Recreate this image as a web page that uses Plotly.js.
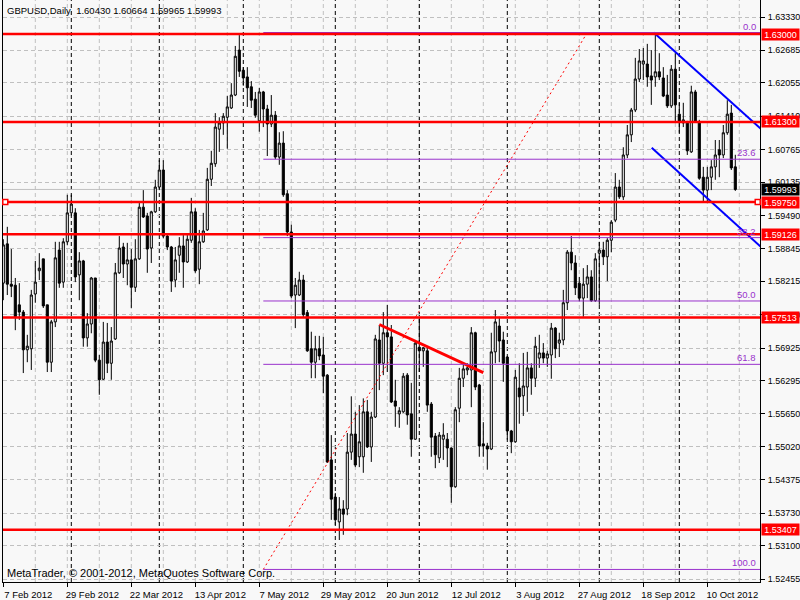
<!DOCTYPE html>
<html><head><meta charset="utf-8">
<script src="https://cdn.plot.ly/plotly-3.0.1.min.js"></script>
<style>html,body{margin:0;padding:0;background:#f8f8f8;}#chart{width:800px;height:600px;}</style>
</head><body><div id="chart"></div>
<script>
const symbolName = "GBPUSD,Daily";
const openP = [1.5818,1.5894,1.5816,1.5814,1.5776,1.5762,1.5689,1.5691,1.5797,1.5842,
1.5865,1.5776,1.5665,1.5743,1.5882,1.5820,1.5898,1.5954,1.5954,1.5834,
1.5861,1.5712,1.5739,1.5828,1.5669,1.5632,1.5704,1.5663,1.5710,1.5838,
1.5888,1.5855,1.5863,1.5810,1.5865,1.5965,1.5948,1.5886,1.5956,1.6004,
1.6037,1.5909,1.5888,1.5824,1.5872,1.5890,1.5859,1.5901,1.5956,1.5845,
1.5898,1.5921,1.6019,1.6049,1.6116,1.6128,1.6139,1.6157,1.6182,1.6269,
1.6230,1.6217,1.6198,1.6174,1.6132,1.6188,1.6155,1.6126,1.6143,1.6062,
1.6089,1.5991,1.5917,1.5795,1.5795,1.5824,1.5761,1.5691,1.5665,1.5691,
1.5679,1.5640,1.5476,1.5404,1.5356,1.5381,1.5381,1.5491,1.5526,1.5482,
1.5482,1.5569,1.5501,1.5559,1.5708,1.5663,1.5722,1.5714,1.5590,1.5565,
1.5569,1.5640,1.5565,1.5516,1.5694,1.5687,1.5687,1.5584,1.5522,1.5480,
1.5516,1.5516,1.5499,1.5424,1.5576,1.5634,1.5650,1.5650,1.5722,1.5621,
1.5507,1.5503,1.5497,1.5685,1.5735,1.5708,1.5675,1.5532,1.5511,1.5615,
1.5600,1.5617,1.5654,1.5634,1.5673,1.5683,1.5673,1.5679,1.5731,1.5702,
1.5708,1.5780,1.5878,1.5857,1.5818,1.5789,1.5816,1.5830,1.5784,1.5876,
1.5882,1.5869,1.5901,1.5940,1.6004,1.5985,1.6066,1.6105,1.6153,1.6213,
1.6242,1.6242,1.6219,1.6217,1.6227,1.6215,1.6182,1.6161,1.6232,1.6145,
1.6128,1.6130,1.6072,1.6188,1.6130,1.6023,1.5998,1.6023,1.6043,1.6076,
1.6066,1.6109,1.6147,1.60430];
const highP = [1.5903,1.5927,1.5884,1.5828,1.5818,1.5766,1.5718,1.5805,1.5861,1.5876,
1.5865,1.5776,1.5747,1.5898,1.5898,1.5905,1.5989,1.5989,1.5963,1.5878,
1.5863,1.5760,1.5830,1.5828,1.5679,1.5743,1.5741,1.5733,1.5857,1.5909,
1.5896,1.5896,1.5884,1.5903,1.5973,1.5998,1.5954,1.5958,1.6018,1.6056,
1.6056,1.5913,1.5890,1.5888,1.5907,1.5911,1.5911,1.5983,1.5963,1.5921,
1.5954,1.6041,1.6074,1.6147,1.6139,1.6147,1.6180,1.6205,1.6277,1.6298,
1.6236,1.6236,1.6209,1.6188,1.6196,1.6190,1.6163,1.6182,1.6151,1.6110,
1.6112,1.5998,1.5931,1.5828,1.5840,1.5834,1.5766,1.5724,1.5716,1.5716,
1.5714,1.5642,1.5524,1.5412,1.5404,1.5398,1.5528,1.5599,1.5569,1.5582,
1.5595,1.5592,1.5569,1.5718,1.5737,1.5762,1.5776,1.5737,1.5631,1.5578,
1.5644,1.5644,1.5625,1.5706,1.5753,1.5694,1.5693,1.5588,1.5528,1.5530,
1.5547,1.5528,1.5500,1.5578,1.5654,1.5665,1.5663,1.5733,1.5724,1.5623,
1.5549,1.5509,1.5722,1.5766,1.5753,1.5724,1.5677,1.5534,1.5650,1.5663,
1.5683,1.5685,1.5663,1.5714,1.5718,1.5702,1.5687,1.5741,1.5733,1.5722,
1.5805,1.5882,1.5909,1.5872,1.5830,1.5847,1.5853,1.5843,1.5876,1.5898,
1.5898,1.5905,1.5940,1.6031,1.6018,1.6081,1.6124,1.6157,1.6254,1.6271,
1.6273,1.6281,1.6269,1.6302,1.6263,1.6236,1.6221,1.6240,1.6263,1.6167,
1.6167,1.6132,1.6200,1.6192,1.6134,1.6043,1.6043,1.6056,1.6095,1.6095,
1.6124,1.6172,1.6163,1.60664];
const lowP = [1.5785,1.5795,1.5791,1.5727,1.5747,1.5644,1.5665,1.5650,1.5780,1.5824,
1.5770,1.5646,1.5646,1.5733,1.5809,1.5809,1.5892,1.5948,1.5820,1.5785,
1.5695,1.5695,1.5721,1.5665,1.5602,1.5631,1.5644,1.5631,1.5708,1.5836,
1.5828,1.5814,1.5770,1.5801,1.5863,1.5944,1.5838,1.5857,1.5954,1.5998,
1.5905,1.5882,1.5801,1.5810,1.5838,1.5809,1.5857,1.5896,1.5838,1.5816,
1.5896,1.5919,1.6006,1.6043,1.6072,1.6105,1.6078,1.6155,1.6180,1.6217,
1.6200,1.6159,1.6157,1.6138,1.6111,1.6120,1.6064,1.6120,1.6058,1.6047,
1.5985,1.5909,1.5789,1.5731,1.5793,1.5751,1.5685,1.5634,1.5634,1.5669,
1.5605,1.5470,1.5360,1.5350,1.5321,1.5331,1.5369,1.5476,1.5462,1.5462,
1.5451,1.5499,1.5472,1.5557,1.5611,1.5640,1.5646,1.5586,1.5540,1.5538,
1.5567,1.5544,1.5482,1.5515,1.5646,1.5656,1.5569,1.5482,1.5460,1.5470,
1.5476,1.5462,1.5393,1.5422,1.5549,1.5617,1.5640,1.5578,1.5611,1.5482,
1.5482,1.5457,1.5495,1.5663,1.5665,1.5627,1.5515,1.5489,1.5509,1.5546,
1.5561,1.5569,1.5602,1.5617,1.5654,1.5663,1.5656,1.5633,1.5673,1.5675,
1.5698,1.5766,1.5843,1.5795,1.5783,1.5753,1.5789,1.5782,1.5782,1.5776,
1.5853,1.5822,1.5878,1.5936,1.5981,1.5979,1.6060,1.6091,1.6149,1.6207,
1.6211,1.6198,1.6163,1.6198,1.6211,1.6178,1.6157,1.6157,1.6128,1.6109,
1.6120,1.6066,1.6070,1.6128,1.6018,1.5975,1.5975,1.5998,1.6018,1.6023,
1.6060,1.6105,1.6037,1.59965];
const closeP = [1.5892,1.5816,1.5812,1.5753,1.5762,1.5689,1.5696,1.5795,1.5820,1.5847,
1.5774,1.5665,1.5743,1.5867,1.5818,1.5898,1.5954,1.5971,1.5830,1.5861,
1.5712,1.5739,1.5828,1.5669,1.5631,1.5704,1.5663,1.5706,1.5838,1.5886,
1.5855,1.5863,1.5810,1.5865,1.5965,1.5946,1.5884,1.5956,1.6004,1.6037,
1.5909,1.5888,1.5822,1.5863,1.5890,1.5859,1.5903,1.5956,1.5842,1.5898,
1.5919,1.6019,1.6050,1.6120,1.6128,1.6141,1.6159,1.6182,1.6257,1.6228,
1.6215,1.6196,1.6172,1.6143,1.6188,1.6155,1.6126,1.6143,1.6062,1.6089,
1.5989,1.5917,1.5793,1.5814,1.5824,1.5757,1.5687,1.5665,1.5691,1.5677,
1.5638,1.5472,1.5400,1.5360,1.5381,1.5371,1.5491,1.5526,1.5466,1.5511,
1.5569,1.5501,1.5559,1.5710,1.5663,1.5722,1.5714,1.5588,1.5580,1.5571,
1.5638,1.5563,1.5516,1.5702,1.5687,1.5693,1.5582,1.5520,1.5486,1.5524,
1.5524,1.5499,1.5424,1.5573,1.5634,1.5652,1.5654,1.5722,1.5617,1.5503,
1.5503,1.5497,1.5685,1.5743,1.5706,1.5663,1.5532,1.5511,1.5636,1.5598,
1.5619,1.5654,1.5634,1.5696,1.5683,1.5673,1.5681,1.5731,1.5691,1.5708,
1.5780,1.5878,1.5857,1.5809,1.5789,1.5816,1.5830,1.5784,1.5865,1.5882,
1.5869,1.5901,1.5936,1.6004,1.5985,1.6066,1.6105,1.6153,1.6213,1.6248,
1.6248,1.6217,1.6211,1.6227,1.6217,1.6180,1.6161,1.6232,1.6163,1.6130,
1.6134,1.6074,1.6188,1.6130,1.6021,1.5998,1.6023,1.6043,1.6066,1.6066,
1.6109,1.6145,1.6041,1.59993];

const tickBars = [0,16,32,48,64,80,96,112,128,144,160,176];
const tickLabels = ["7 Feb 2012","29 Feb 2012","22 Mar 2012","13 Apr 2012","7 May 2012","29 May 2012",
  "20 Jun 2012","12 Jul 2012","3 Aug 2012","27 Aug 2012","18 Sep 2012","10 Oct 2012"];
const monthStartBars = [17,39,60,83,104,126,149,169];
const priceTicks = [1.63330,1.62685,1.62055,1.61410,1.60765,1.60135,1.59490,1.58845,1.58215,
  1.57570,1.56925,1.56295,1.55650,1.55020,1.54375,1.53730,1.53100,1.52455];
const hLevels = [1.63000,1.61300,1.59750,1.59126,1.57513,1.53407];
const fibLevels = [0.0,23.6,38.2,50.0,61.8,100.0];
const fibHigh = 1.6303, fibLow = 1.5264;
const fibBars = [65,146];
const redTrendBars = [94,120], redTrendPrices = [1.5738,1.5645];
const blueUpperBars = [162.6,189.3], blueUpperPrices = [1.6303,1.6117];
const blueLowerBars = [162.1,189.3], blueLowerPrices = [1.6080,1.5889];

const xRange = [-0.075, 189.175];
const yRange = [1.52397, 1.63659];
const FONT = "Liberation Sans, Arial, sans-serif";
const PURPLE = "#9932cc";
const nBars = closeP.length;
const xIdx = closeP.map((_, i) => i);

const traces = [
  {type:'candlestick', x:xIdx, open:openP, high:highP, low:lowP, close:closeP,
   increasing:{line:{color:'#000000', width:1}, fillcolor:'#f8f8f8'},
   decreasing:{line:{color:'#000000', width:1}, fillcolor:'#000000'},
   whiskerwidth:0, hoverinfo:'skip', showlegend:false},
  {type:'scatter', mode:'lines', x:fibBars, y:[fibLow, fibHigh], line:{color:'#ff0000', width:1, dash:'2px,3px'}, hoverinfo:'skip', showlegend:false},
  {type:'scatter', mode:'lines', x:redTrendBars, y:redTrendPrices, line:{color:'#ff0000', width:3}, hoverinfo:'skip', showlegend:false},
  {type:'scatter', mode:'lines', x:blueUpperBars, y:blueUpperPrices, line:{color:'#0000ff', width:2}, hoverinfo:'skip', showlegend:false},
  {type:'scatter', mode:'lines', x:blueLowerBars, y:blueLowerPrices, line:{color:'#0000ff', width:2}, hoverinfo:'skip', showlegend:false}
];

const shapes = [];
for (let k = 8; k < xRange[1]; k += 8) {
  shapes.push({type:'line', xref:'x', yref:'paper', x0:k, x1:k, y0:0, y1:1, layer:'below',
    line:{color:'#c0c0c0', width:1, dash:'4px,3px'}});
}
monthStartBars.forEach(k => shapes.push({type:'line', xref:'x', yref:'paper', x0:k, x1:k, y0:0, y1:1, layer:'below',
  line:{color:'#000000', width:1, dash:'4px,3px'}}));
const lastClose = closeP[nBars-1];
shapes.push({type:'line', xref:'paper', yref:'y', x0:0, x1:1, y0:lastClose, y1:lastClose, layer:'below', line:{color:'#c0c0c0', width:1}});
fibLevels.forEach(lv => {
  const p = fibHigh - (fibHigh - fibLow) * lv / 100;
  shapes.push({type:'line', xref:'x', yref:'y', x0:fibBars[0], x1:xRange[1], y0:p, y1:p, line:{color:PURPLE, width:1}});
});
hLevels.forEach(p => shapes.push({type:'line', xref:'paper', yref:'y', x0:0, x1:1, y0:p, y1:p, line:{color:'#ff0000', width:2.5}}));
[0.003, 0.997].forEach(px => shapes.push({type:'rect', xref:'paper', yref:'y', xsizemode:'pixel', ysizemode:'pixel',
  xanchor:px, yanchor:hLevels[2], x0:-2.5, x1:2.5, y0:-2.5, y1:2.5, fillcolor:'#ffffff', line:{color:'#ff0000', width:1.5}}));

const annotations = [];
annotations.push({xref:'paper', yref:'paper', x:0, y:1, xanchor:'left', yanchor:'top', xshift:2, yshift:-3, showarrow:false,
  text:symbolName + '\u00a0\u00a0' + [openP[nBars-1], highP[nBars-1], lowP[nBars-1], lastClose].map(v => v.toFixed(5)).join(' '),
  font:{family:FONT, size:9.5, color:'#000000'}});
annotations.push({xref:'paper', yref:'paper', x:0, y:0, xanchor:'left', yanchor:'bottom', xshift:2, yshift:1, showarrow:false,
  text:'MetaTrader, © 2001-2012, MetaQuotes Software Corp.', font:{family:FONT, size:11, color:'#000000'}});
fibLevels.forEach(lv => {
  const p = fibHigh - (fibHigh - fibLow) * lv / 100;
  annotations.push({xref:'paper', yref:'y', x:1, y:p, xanchor:'right', yanchor:'bottom', xshift:-2, yshift:-1, showarrow:false,
    text:lv.toFixed(1), font:{family:FONT, size:9.5, color:PURPLE}});
});
hLevels.forEach(p => annotations.push({xref:'paper', yref:'y', x:1, y:p, xanchor:'left', yanchor:'middle', xshift:1, showarrow:false,
  text:p.toFixed(5), bgcolor:'#ff0000', width:37, height:11, borderpad:0, font:{family:FONT, size:9, color:'#ffffff'}}));
annotations.push({xref:'paper', yref:'y', x:1, y:lastClose, xanchor:'left', yanchor:'middle', xshift:1, showarrow:false,
  text:lastClose.toFixed(5), bgcolor:'#000000', width:37, height:11, borderpad:0, font:{family:FONT, size:9, color:'#ffffff'}});

const layout = {
  width:800, height:600,
  margin:{l:3, r:40, t:0, b:18, pad:0},
  paper_bgcolor:'#f8f8f8', plot_bgcolor:'#f8f8f8',
  showlegend:false, boxgap:0.25,
  font:{family:FONT, size:9.5, color:'#000000'},
  xaxis:{type:'linear', range:xRange, rangeslider:{visible:false}, tickmode:'array', tickvals:tickBars, ticktext:tickLabels,
    ticks:'outside', ticklen:4, tickcolor:'#000000', showgrid:false, zeroline:false,
    showline:true, linecolor:'#000000', linewidth:1, ticklabelshift:25, ticklabelstandoff:0,
    tickfont:{family:FONT, size:9.5, color:'#000000'}, fixedrange:true},
  yaxis:{side:'right', range:yRange, tickmode:'array', tickvals:priceTicks, ticktext:priceTicks.map(v => v.toFixed(5)),
    ticks:'outside', ticklen:4, tickcolor:'#000000', showgrid:true, gridcolor:'#c0c0c0', griddash:'4px,3px', gridwidth:1,
    zeroline:false, showline:true, mirror:true, linecolor:'#000000', linewidth:1, ticklabelstandoff:1,
    tickfont:{family:FONT, size:9, color:'#000000'}, fixedrange:true},
  shapes:shapes, annotations:annotations
};
Plotly.newPlot('chart', traces, layout, {staticPlot:true, displayModeBar:false});
</script></body></html>
